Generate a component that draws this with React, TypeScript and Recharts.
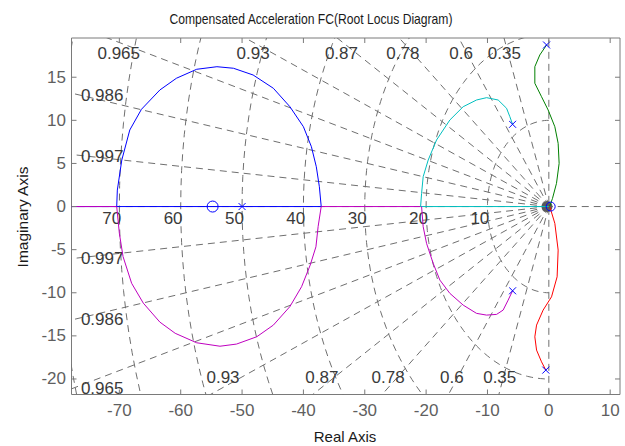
import React from "react";
import { ReferenceArea, Scatter, ScatterChart, XAxis, YAxis } from "recharts";

type Pair = [number, number];

const X_DOMAIN: [number, number] = [-77.8, 11.6];
const Y_DOMAIN: [number, number] = [-21.8, 19.55];
const xTicks = [-70, -60, -50, -40, -30, -20, -10, 0, 10];
const yTicks = [-20, -15, -10, -5, 0, 5, 10, 15];

// locus branches (real, imag)
const blueUpper: Pair[] = [
  [-70.43, 0], [-70.33, 1.91], [-69.6, 5.4], [-68.3, 8.88], [-66.4, 11.28],
  [-63.4, 13.52], [-60.7, 14.88], [-57.4, 15.92], [-54.1, 16.22], [-51.4, 16.04],
  [-48.2, 15.26], [-44.9, 13.72], [-42.2, 11.58], [-40.0, 9.26], [-38.7, 6.94],
  [-37.9, 4.62], [-37.4, 2.3], [-37.1, 0],
];
const magentaLower: Pair[] = [
  [-70.43, 0], [-70.0, -3.1], [-69.4, -5.8], [-68.0, -8.9], [-66.1, -11.2],
  [-63.4, -13.4], [-60.9, -14.7], [-57.4, -15.8], [-53.6, -16.2], [-50.9, -15.95],
  [-47.6, -15.1], [-44.9, -13.75], [-42.2, -11.6], [-40.3, -9.3], [-38.9, -6.8],
  [-37.96, -4.67], [-37.6, -2.3], [-37.1, 0],
];
const cyanBranch: Pair[] = [
  [-5.91, 9.54], [-6.35, 10.42], [-6.89, 11.4], [-8.26, 12.36], [-10.15, 12.63],
  [-11.78, 12.36], [-13.96, 11.58], [-16.13, 10.04], [-18.3, 7.72], [-19.66, 5.4],
  [-20.48, 3.46], [-20.74, 1.53], [-20.9, 0],
];
const magentaBranch: Pair[] = [
  [-5.91, -9.77], [-6.63, -10.85], [-7.45, -12.01], [-8.52, -12.51], [-10.15, -12.59],
  [-11.78, -12.39], [-13.96, -11.43], [-16.13, -10.07], [-17.76, -8.53], [-18.85, -6.59],
  [-19.93, -4.27], [-20.48, -2.34], [-20.74, 0],
];
const greenBranch: Pair[] = [
  [-0.37, 18.74], [-1.47, 17.58], [-2.28, 16.22], [-2.28, 14.3], [-1.19, 12.74],
  [-0.11, 11.2], [0.98, 9.26], [1.52, 7.33], [1.68, 5.01], [1.25, 2.69],
  [0.6, 0.95], [0.16, 0.06],
];
const redBranch: Pair[] = [
  [0.16, -0.02], [0.98, -1.95], [1.52, -5.05], [1.35, -8.15], [0.44, -10.47],
  [-0.93, -12.01], [-2.0, -13.75], [-2.28, -15.11], [-2.0, -16.65], [-1.19, -18.01],
  [-0.49, -18.97],
];
const blueReal: Pair[] = [[-78, 0], [-37.1, 0]];
const magentaRealLeft: Pair[] = [[-78, 0], [-70.43, 0]];
const magentaReal: Pair[] = [[-37.1, 0], [-20.9, 0]];
const cyanReal: Pair[] = [[-20.9, 0], [0, 0]];

const poles: Pair[] = [[-50, 0], [-5.91, 9.54], [-5.91, -9.77], [-0.37, 18.74], [-0.49, -18.97]];
const zeros: Pair[] = [[-54.8, 0], [0.3, 0]];

// sgrid
const dampingValues = [0.35, 0.6, 0.78, 0.87, 0.93, 0.965, 0.986, 0.997];
const naturalFreqs = [10, 20, 30, 40, 50, 60, 70, 80];
const freqLabels = [10, 20, 30, 40, 50, 60, 70];
const dampingLabels = [
  { x: -70.1, y: 17.8, text: "0.965" },
  { x: -48.2, y: 17.8, text: "0.93" },
  { x: -33.8, y: 17.8, text: "0.87" },
  { x: -23.8, y: 17.8, text: "0.78" },
  { x: -14.3, y: 17.8, text: "0.6" },
  { x: -7.25, y: 17.8, text: "0.35" },
  { x: -72.8, y: 12.93, text: "0.986" },
  { x: -72.8, y: 5.78, text: "0.997" },
  { x: -72.8, y: -5.98, text: "0.997" },
  { x: -72.8, y: -13.06, text: "0.986" },
  { x: -72.8, y: -21.1, text: "0.965" },
  { x: -53.1, y: -19.8, text: "0.93" },
  { x: -37.0, y: -19.8, text: "0.87" },
  { x: -26.2, y: -19.8, text: "0.78" },
  { x: -15.8, y: -19.8, text: "0.6" },
  { x: -8.0, y: -19.8, text: "0.35" },
];

const W = 625;
const H = 446;
const PLOT_LEFT = 71.5;
const PLOT_TOP = 38;
const PLOT_RIGHT = 620;
const PLOT_BOTTOM = 394.5;
const PLOT_W = PLOT_RIGHT - PLOT_LEFT;
const PLOT_H = PLOT_BOTTOM - PLOT_TOP;

const FONT = "'Liberation Sans', Arial, Helvetica, sans-serif";
const BOX = "#7a7a7a";
const GRID = "#6f6f6f";
const DASH = "7 5";

const pts = (arr: Pair[]) => arr.map(([x, y]) => ({ x, y }));

const rays = dampingValues.flatMap((z) => {
  const s = Math.sqrt(1 - z * z);
  return [
    [{ x: 0, y: 0 }, { x: -200 * z, y: 200 * s }],
    [{ x: 0, y: 0 }, { x: -200 * z, y: -200 * s }],
  ];
});
const arcs = naturalFreqs.map((wn) => {
  const out: { x: number; y: number }[] = [];
  for (let a = 90; a <= 270; a += 2) {
    const t = (a * Math.PI) / 180;
    out.push({ x: wn * Math.cos(t), y: wn * Math.sin(t) });
  }
  return out;
});
const axesLines = [
  [{ x: -200, y: 0 }, { x: 200, y: 0 }],
  [{ x: 0, y: -200 }, { x: 0, y: 200 }],
];

const noDot = () => <g />;

const XTick = (props: any) => {
  const { x, y, payload } = props;
  return (
    <g>
      <line x1={x} x2={x} y1={y} y2={y - 5} stroke={BOX} />
      <line x1={x} x2={x} y1={y - PLOT_H} y2={y - PLOT_H + 5} stroke={BOX} />
      <text x={x} y={y + 16} textAnchor="middle" dominantBaseline="central" fill="#5f5f5f" fontSize={17} fontFamily={FONT}>
        {payload.value}
      </text>
    </g>
  );
};

const YTick = (props: any) => {
  const { x, y, payload } = props;
  return (
    <g>
      <line x1={x} x2={x + 5} y1={y} y2={y} stroke={BOX} />
      <line x1={x + PLOT_W} x2={x + PLOT_W - 5} y1={y} y2={y} stroke={BOX} />
      <text x={x - 5.5} y={y} textAnchor="end" dominantBaseline="central" fill="#5f5f5f" fontSize={17} fontFamily={FONT}>
        {payload.value}
      </text>
    </g>
  );
};

const PoleMark = (props: any) => {
  const { cx, cy } = props;
  return (
    <g stroke="#0000ff" strokeWidth={1}>
      <line x1={cx - 3.5} y1={cy - 3.5} x2={cx + 3.5} y2={cy + 3.5} />
      <line x1={cx - 3.5} y1={cy + 3.5} x2={cx + 3.5} y2={cy - 3.5} />
    </g>
  );
};

const ZeroMark = (props: any) => {
  const { cx, cy, index } = props;
  return <circle cx={cx} cy={cy} r={index === 0 ? 5.5 : 4.5} fill="none" stroke="#0000ff" strokeWidth={1} />;
};

const OriginBlob = (props: any) => <circle cx={props.cx} cy={props.cy} r={5.5} fill="#5a5a5a" />;

const DampingText = (props: any) => (
  <text x={props.cx} y={props.cy} textAnchor="middle" dominantBaseline="central" fill="#3a3a3a" fontSize={17} fontFamily={FONT}>
    {props.payload.text}
  </text>
);

const FreqText = (props: any) => (
  <text x={props.cx - 7.6} y={props.cy + 12} textAnchor="middle" dominantBaseline="central" fill="#3a3a3a" fontSize={17} fontFamily={FONT}>
    {props.payload.text}
  </text>
);

const locus = (data: Pair[], color: string, key: string) => (
  <Scatter
    key={key}
    data={pts(data)}
    line={{ stroke: color, strokeWidth: 1 }}
    lineType="joint"
    shape={noDot}
    isAnimationActive={false}
  />
);

export default function App() {
  return (
    <div style={{ position: "absolute", left: 0, top: 0, width: W, height: H, background: "#fff" }}>
      <ScatterChart width={W} height={H} margin={{ top: PLOT_TOP, right: W - PLOT_RIGHT, bottom: 0, left: 0 }}>
        <XAxis
          type="number"
          dataKey="x"
          domain={X_DOMAIN}
          ticks={xTicks}
          interval={0}
          allowDataOverflow
          height={H - PLOT_BOTTOM}
          axisLine={false}
          tickLine={false}
          tickSize={0}
          tickMargin={0}
          tick={XTick}
        />
        <YAxis
          type="number"
          dataKey="y"
          domain={Y_DOMAIN}
          ticks={yTicks}
          interval={0}
          allowDataOverflow
          width={PLOT_LEFT}
          axisLine={false}
          tickLine={false}
          tickSize={0}
          tickMargin={0}
          tick={YTick}
        />
        {[...rays, ...arcs, ...axesLines].map((d, i) => (
          <Scatter
            key={`g${i}`}
            data={d}
            line={{ stroke: GRID, strokeWidth: 1, strokeDasharray: DASH }}
            lineType="joint"
            shape={noDot}
            isAnimationActive={false}
          />
        ))}
        <Scatter data={[{ x: -0.3, y: 0 }]} shape={OriginBlob} isAnimationActive={false} />
        <Scatter data={dampingLabels} shape={DampingText} isAnimationActive={false} />
        <Scatter data={freqLabels.map((w) => ({ x: -w, y: 0, text: String(w) }))} shape={FreqText} isAnimationActive={false} />
        {locus(blueReal, "#0000ff", "br")}
        {locus(magentaRealLeft, "#bf00bf", "mrl")}
        {locus(magentaReal, "#bf00bf", "mr")}
        {locus(cyanReal, "#00bfbf", "cr")}
        {locus(blueUpper, "#0000ff", "bu")}
        {locus(magentaLower, "#bf00bf", "ml")}
        {locus(cyanBranch, "#00bfbf", "cb")}
        {locus(magentaBranch, "#bf00bf", "mb")}
        {locus(greenBranch, "#008000", "gb")}
        {locus(redBranch, "#ff0000", "rb")}
        <Scatter data={pts(poles)} shape={PoleMark} isAnimationActive={false} />
        <Scatter data={pts(zeros)} shape={ZeroMark} isAnimationActive={false} />
        <ReferenceArea
          x1={X_DOMAIN[0]}
          x2={X_DOMAIN[1]}
          y1={Y_DOMAIN[0]}
          y2={Y_DOMAIN[1]}
          fill="none"
          stroke={BOX}
          strokeWidth={1}
        />
      </ScatterChart>
      <svg width={W} height={H} style={{ position: "absolute", left: 0, top: 0, pointerEvents: "none" }}>
        <text x={311} y={24} textAnchor="middle" fontSize={15} fontFamily={FONT} fill="#1a1a1a" textLength={283} lengthAdjust="spacingAndGlyphs">
          Compensated Acceleration FC(Root Locus Diagram)
        </text>
        <text x={345} y={442} textAnchor="middle" fontSize={15} fontFamily={FONT} fill="#1a1a1a">
          Real Axis
        </text>
        <text x={28} y={217} textAnchor="middle" fontSize={15.5} fontFamily={FONT} fill="#1a1a1a" transform="rotate(-90 28 217)">
          Imaginary Axis
        </text>
      </svg>
    </div>
  );
}
